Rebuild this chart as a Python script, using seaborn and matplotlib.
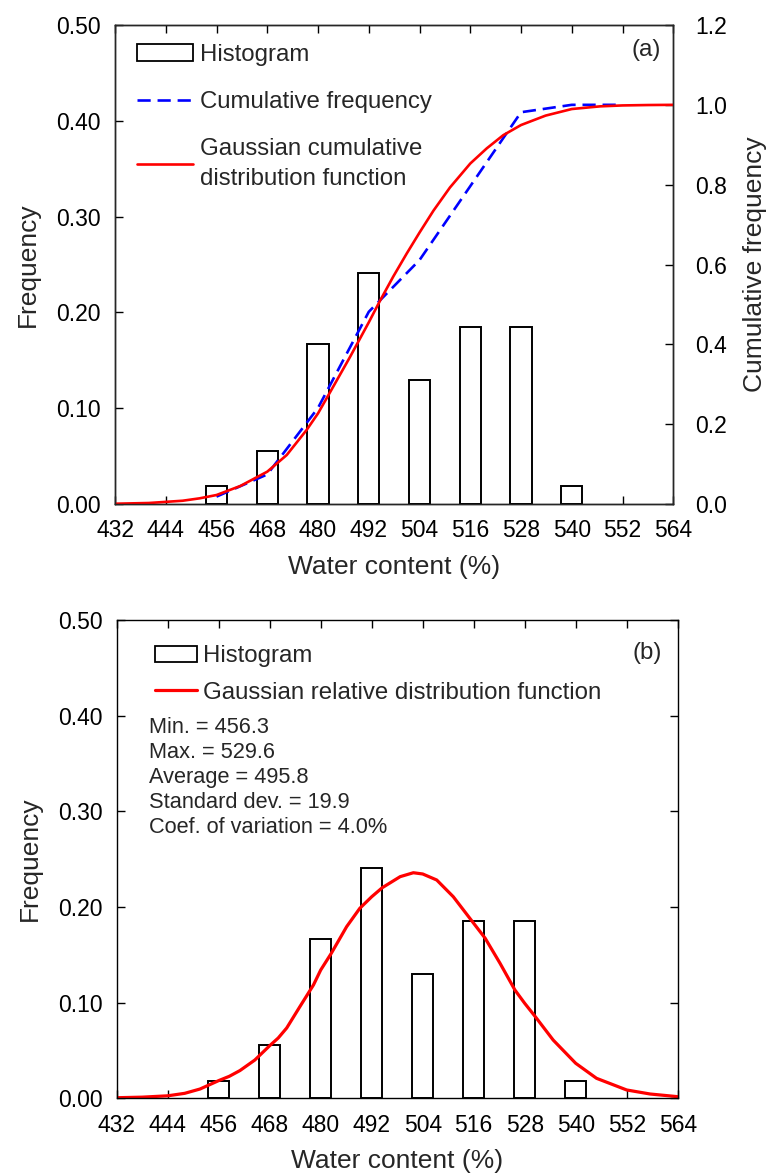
import matplotlib
matplotlib.use("Agg")
import matplotlib.pyplot as plt
import seaborn as sns
from matplotlib.patches import Patch
from matplotlib.lines import Line2D
from matplotlib.ticker import FormatStrFormatter

# histogram (bin centre, relative frequency)
bin_centres = [456, 468, 480, 492, 504, 516, 528, 540]
bin_freq = [0.0185, 0.0556, 0.1667, 0.2407, 0.1296, 0.1852, 0.1852, 0.0185]

# cumulative frequency (dashed blue)
cum_x = [456, 468, 480, 492, 504, 516, 528, 540, 552]
cum_y = [0.0185, 0.0741, 0.2407, 0.4815, 0.6111, 0.7963, 0.9815, 1.0, 1.0]

# gaussian cumulative curve
cdf_x = [432, 440, 448, 452, 456, 461.6, 468, 472.6, 477.3, 480, 483.6, 487.6,
         492, 494.7, 497.8, 501, 504, 507.3, 511.2, 516, 519.9, 523.8, 528,
         533.8, 540, 546.7, 552, 558, 564]
cdf_y = [0.0007, 0.0025, 0.0082, 0.0142, 0.0225, 0.045, 0.081, 0.1227, 0.1854,
         0.227, 0.294, 0.369, 0.455, 0.51, 0.57, 0.628, 0.68, 0.735, 0.793,
         0.853, 0.891, 0.924, 0.9494, 0.973, 0.9895, 0.9962, 0.9985, 0.9995, 1.0]

# gaussian relative distribution
pdf_x = [432, 438, 444, 448, 451.6, 456, 458.5, 461, 464.5, 468, 470, 472, 475.1,
         478.3, 480, 482.5, 486.1, 489.2, 492, 494.5, 498.7, 501.8, 504, 507.3,
         511.2, 516, 518.7, 522.2, 525.7, 528, 530.5, 534.7, 540, 544.9, 552,
         557.5, 564]
pdf_y = [0.0006, 0.0012, 0.0026, 0.0052, 0.0097, 0.0185, 0.023, 0.029, 0.040,
         0.0550, 0.0630, 0.0735, 0.0958, 0.1185, 0.1341, 0.1516, 0.1794, 0.1986,
         0.2107, 0.2202, 0.2317, 0.2358, 0.2345, 0.2282, 0.2107, 0.1829, 0.1673,
         0.1411, 0.1132, 0.0993, 0.0853, 0.0609, 0.0366, 0.0209, 0.0087, 0.0045,
         0.0017]

x_ticks = list(range(432, 565, 12))
freq_ticks = [0.0, 0.1, 0.2, 0.3, 0.4, 0.5]
cum_ticks = [0.0, 0.2, 0.4, 0.6, 0.8, 1.0, 1.2]

stats_text = ("Min. = 456.3\nMax. = 529.6\nAverage = 495.8\n"
              "Standard dev. = 19.9\nCoef. of variation = 4.0%")

sns.set_style("ticks")
plt.rcParams['font.family'] = ['Liberation Sans', 'DejaVu Sans']
plt.rcParams['axes.linewidth'] = 1.0

TICK = 16.5
LAB = 19
LEG = 17.3

fig = plt.figure(figsize=(7.71, 11.76), dpi=100)


def style_axis(ax, right_ticks=False):
    ax.set_xlim(432, 564)
    ax.set_xticks(x_ticks)
    ax.set_ylim(0, 0.5)
    ax.set_yticks(freq_ticks)
    ax.yaxis.set_major_formatter(FormatStrFormatter('%.2f'))
    ax.tick_params(axis='x', direction='in', length=6, width=1, top=True,
                   labelsize=TICK, pad=11, colors='black')
    ax.tick_params(axis='y', direction='in', length=6, width=1, right=right_ticks,
                   labelsize=TICK, pad=10, colors='black')
    for s in ax.spines.values():
        s.set_visible(True)
        s.set_color('black')
    ax.set_xlabel("Water content (%)", fontsize=LAB, labelpad=9)
    ax.set_ylabel("Frequency", fontsize=LAB, labelpad=12)


# ---------- panel (a) ----------
ax = fig.add_axes([115 / 771, 1 - 504 / 1176, 558.3 / 771, 479 / 1176])
sns.barplot(x=bin_centres, y=bin_freq, native_scale=True, width=5 / 12,
            color='white', edgecolor='black', linewidth=1.4, errorbar=None, ax=ax)
style_axis(ax)

ax2 = ax.twinx()
sns.lineplot(x=cum_x, y=cum_y, color='blue', lw=1.9, estimator=None, sort=False, ax=ax2)
ax2.lines[-1].set_dashes([5, 2.6])
sns.lineplot(x=cdf_x, y=cdf_y, color='red', lw=1.9, estimator=None, sort=False, ax=ax2)
ax2.set_ylim(0, 1.2)
ax2.set_yticks(cum_ticks)
ax2.yaxis.set_major_formatter(FormatStrFormatter('%.1f'))
ax2.tick_params(axis='y', direction='in', length=6, width=1, labelsize=TICK,
                pad=16, colors='black')
ax2.set_ylabel("Cumulative frequency", fontsize=LAB, labelpad=11)
ax2.set_xlim(432, 564)

handles_a = [Patch(facecolor='white', edgecolor='black', lw=1.3),
             Line2D([], [], color='blue', lw=1.9, ls=(0, (5, 2.6))),
             Line2D([], [], color='red', lw=1.9)]
labels_a = ["Histogram", "Cumulative frequency",
            "Gaussian cumulative\ndistribution function"]
leg_a = ax2.legend(handles_a, labels_a, loc='upper left', bbox_to_anchor=(0.039, 0.961),
                   frameon=False, fontsize=LEG, borderpad=0, borderaxespad=0,
                   handlelength=2.35, handletextpad=0.3, labelspacing=1.05)
for t in leg_a.get_texts():
    t.set_linespacing(1.45)
ax2.text(0.952, 0.948, "(a)", transform=ax2.transAxes, fontsize=LEG,
         ha='center', va='center')

# ---------- panel (b) ----------
bx = fig.add_axes([116.7 / 771, 1 - 1098.3 / 1176, 561 / 771, 478.3 / 1176])
sns.barplot(x=bin_centres, y=bin_freq, native_scale=True, width=5 / 12,
            color='white', edgecolor='black', linewidth=1.4, errorbar=None, ax=bx)
sns.lineplot(x=pdf_x, y=pdf_y, color='red', lw=2.3, estimator=None, sort=False, ax=bx)
style_axis(bx, right_ticks=True)

handles_b = [Patch(facecolor='white', edgecolor='black', lw=1.3),
             Line2D([], [], color='red', lw=2.3)]
labels_b = ["Histogram", "Gaussian relative distribution function"]
bx.legend(handles_b, labels_b, loc='upper left', bbox_to_anchor=(0.068, 0.947),
          frameon=False, fontsize=LEG, borderpad=0, borderaxespad=0,
          handlelength=1.75, handletextpad=0.25, labelspacing=0.6)
bx.text(0.0576, 0.797, stats_text, transform=bx.transAxes, fontsize=15.7,
        ha='left', va='top', linespacing=1.25)
bx.text(0.945, 0.931, "(b)", transform=bx.transAxes, fontsize=LEG,
        ha='center', va='center')

fig.savefig("out.png", dpi=100)
